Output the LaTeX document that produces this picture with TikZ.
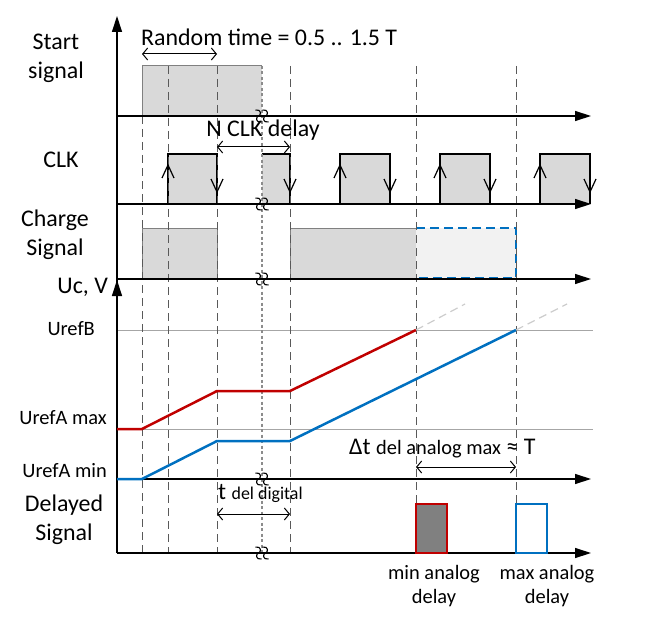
\documentclass[tikz,border=0pt]{standalone}
\usepackage{fontspec}
\setmainfont{Carlito}
\usetikzlibrary{arrows.meta}

\definecolor{ucred}{HTML}{C00000}
\definecolor{ucblue}{HTML}{0070C0}
\definecolor{pulsefill}{HTML}{D9D9D9}
\definecolor{spanfill}{HTML}{F2F2F2}
\definecolor{refline}{HTML}{A6A6A6}

\begin{document}
\begin{tikzpicture}[x=1bp,y=-1bp,
  axis/.style={line width=1.3bp,-{Triangle[length=16bp,width=10bp]}},
  tick/.style={dash pattern=on 8bp off 5bp,line width=1bp,black!65},
  span/.style={line width=1bp,{Straight Barb[length=5bp,width=12bp]}-{Straight Barb[length=5bp,width=12bp]}},
  lbl/.style={font=\fontsize{24}{29}\selectfont,align=center,inner sep=0pt},
  reflbl/.style={font=\fontsize{20.5}{24}\selectfont,inner sep=0pt},
  breakmark/.style={line width=1.1bp,black}]
\useasboundingbox (0,0) rectangle (660,626);

% pulses
\fill[pulsefill] (142,66) rectangle (262,116);
\draw[gray,line width=1bp] (142,116)--(142,66)--(262,66);
\filldraw[fill=pulsefill,draw=black,line width=1.3bp] (168,204)--(168,154)--(217,154)--(217,204);
\fill[pulsefill] (262,154) rectangle (290,204);
\draw[line width=1.3bp] (262,154)--(290,154)--(290,204);
\foreach \x in {340,440,540}
  \filldraw[fill=pulsefill,draw=black,line width=1.3bp] (\x,204)--(\x,154)--(\x+50,154)--(\x+50,204);
\filldraw[fill=pulsefill,draw=gray,line width=1bp] (142,228) rectangle (217,279);
\filldraw[fill=pulsefill,draw=gray,line width=1bp] (290,228) rectangle (416,279);
\fill[spanfill] (416,228) rectangle (516,279);
\draw[ucblue,dash pattern=on 9bp off 5bp,line width=1.2bp] (416,228)--(516,228)--(516,278)--(416,278);

% reference levels
\draw[refline,line width=1bp] (117,330)--(593,330);
\draw[refline,line width=1bp] (117,429)--(593,429);

% time marks
\draw[tick] (142,116)--(142,553);
\foreach \x in {168,217,290,416,516}
  \draw[tick] (\x,66)--(\x,553);
\draw[black!45,line width=2.5bp,dash pattern=on 3bp off 2.5bp] (262,66)--(262,553);

% axes
\draw[axis] (117,553)--(117,16);
\draw[axis] (117,300)--(117,280);
\foreach \y in {116,204,279,479,553}
  \draw[axis] (117,\y)--(591,\y);

% clock edges
\foreach \x in {168,340,440,540}
  \draw[line width=1.2bp] (\x-6,178)--(\x,165)--(\x+6,178);
\foreach \x in {217,290,390,490,590}
  \draw[line width=1.2bp] (\x-6,179)--(\x,192)--(\x+6,179);

% capacitor voltage
\draw[ucred,line width=2.5bp] (117,429)--(142,429)--(217,391)--(290,391)--(416,330);
\draw[ucblue,line width=2.5bp] (117,479)--(142,479)--(217,441)--(290,441)--(516,330);
\draw[black!20,dash pattern=on 8bp off 5bp,line width=1.2bp] (416,330)--(465,304);
\draw[black!20,dash pattern=on 8bp off 5bp,line width=1.2bp] (516,330)--(567,304);

% delayed outputs
\filldraw[fill=black!50,draw=ucred,line width=1.5bp] (416,504) rectangle (447,553);
\filldraw[fill=white,draw=ucblue,line width=1.5bp] (516,504) rectangle (547,553);

% breaks
\foreach \y in {116,204,279,479,553}
  \foreach \dx in {-3.5,3.5}
    \draw[breakmark] (262+\dx-3,\y-6) .. controls (262+\dx+3,\y-7) and (262+\dx+3,\y-1) .. (262+\dx,\y)
      .. controls (262+\dx-3,\y+1) and (262+\dx-3,\y+7) .. (262+\dx+3,\y+6);

% spans
\draw[span] (142,54)--(217,54);
\draw[span] (217,147)--(290,147);
\draw[span] (217,514)--(290,514);
\draw[span] (416,467)--(516,467);

% labels
\node[lbl,anchor=west] (randomtime) at (141,37) {Random time = 0.5 .. 1.5 T};
\node[lbl] (nclk) at (263,130) {N CLK delay};
\node[lbl,anchor=west] (tdigital) at (218,493) {t {\fontsize{18}{20}\selectfont del digital}};
\node[lbl,anchor=west] (tanalog) at (349,449) {Δt {\fontsize{20.5}{24}\selectfont del analog max} ≈ T};
\node[lbl] (startlbl) at (56,58) {Start\\signal};
\node[lbl] (clklbl) at (61,160) {CLK};
\node[lbl] (chargelbl) at (55,235) {Charge\\Signal};
\node[lbl,anchor=east] (uclbl) at (108,287) {Uc, V};
\node[reflbl,anchor=east] (urefb) at (95,329) {UrefB};
\node[reflbl,anchor=east] (urefamax) at (107,418) {UrefA max};
\node[reflbl,anchor=east] (urefamin) at (107,471) {UrefA min};
\node[lbl] (delayedlbl) at (64,520) {Delayed\\Signal};
\node[reflbl,align=center] (minlbl) at (434,586) {min analog\\delay};
\node[reflbl,align=center] (maxlbl) at (547,586) {max analog\\delay};
\end{tikzpicture}
\end{document}
